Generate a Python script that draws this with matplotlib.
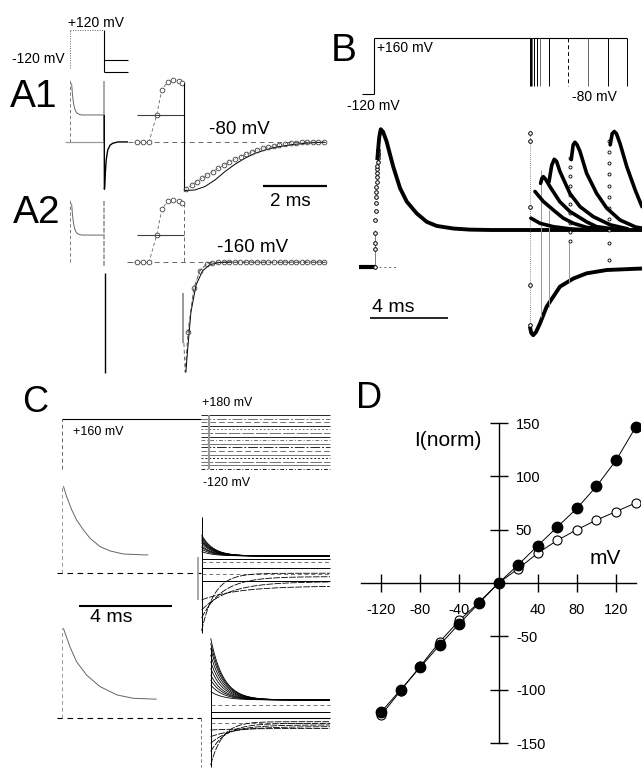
import numpy as np
import matplotlib
matplotlib.use("Agg")
import matplotlib.pyplot as plt

plt.rcParams['font.family'] = ['Liberation Sans', 'DejaVu Sans']
plt.rcParams['lines.solid_capstyle'] = 'butt'

# ======================= DATA =======================
# ---- Panel D : normalized I-V ----
D_mV = [-120, -100, -80, -60, -40, -20, 0, 20, 40, 60, 80, 100, 120, 140]
D_filled = [-121, -100, -79, -58, -38, -19, 0, 17, 35, 52.5, 70, 90.6, 115, 146]
D_open = [-124, -101, -78, -55, -35, -18, 0, 13.4, 28, 40, 50, 59, 67, 75]
D_xticks = [-120, -80, -40, 40, 80, 120]
D_yticks = [-150, -100, -50, 50, 100, 150]

# ---- Panel A : protocol (mV) and currents (normalized, plateau = 1) ----
A_pulse_end = 11.8          # ms, slow time base
A_tail_end = 20.0
A_V_hold = -120
A_V_pulse = 120
A_V_tails = [-80, -160]
A_dec_t = [0.0, 0.55, 0.8, 1.05, 1.3, 1.6, 2.0, 2.5, 3.2, 4.2, 11.8]
A_dec_I = [2.3, 2.17, 1.82, 1.56, 1.38, 1.24, 1.13, 1.06, 1.02, 1.0, 1.0]
A1_tail_t = [11.85, 11.95, 12.2, 12.5, 13.0, 13.8, 14.7, 16.5, 20.0]
A1_tail_I = [-1.75, -1.7, -1.1, -0.65, -0.3, -0.12, -0.05, 0.0, 0.0]
A2_tail_min = -4.1
# expanded time base (ms): onset samples, then samples after the pulse end
A_on_t = [-0.42, -0.23, -0.03, 0.21, 0.37, 0.55, 0.73, 0.91, 0.99]
A1_on_I = [0, 0, 0, 1.0, 1.93, 2.23, 2.30, 2.26, 2.17]
A2_on_I = [0, 0, 0, 1.0, 1.95, 2.26, 2.30, 2.26, 2.17]
A_break = 1.06
A1_off_t = [0.06, 0.24, 0.40, 0.55, 0.73, 0.90, 1.07, 1.25, 1.42, 1.59, 1.77, 1.94, 2.12,
            2.29, 2.46, 2.64, 2.81, 2.98, 3.16, 3.33, 3.50, 3.68, 3.85, 4.02, 4.20, 4.38]
A1_off_I = [-1.75, -1.59, -1.47, -1.35, -1.22, -1.10, -0.98, -0.85, -0.73, -0.64, -0.54, -0.46,
            -0.37, -0.30, -0.23, -0.20, -0.15, -0.11, -0.07, -0.05, -0.03, -0.01, 0, 0, 0, 0]
A1_fit_t = [0.0, 0.34, 0.66, 0.97, 1.28, 1.59, 1.91, 2.22, 2.53, 2.84, 3.37, 3.88, 4.4]
A1_fit_I = [-1.8, -1.78, -1.65, -1.41, -1.1, -0.83, -0.6, -0.42, -0.3, -0.2, -0.1, -0.04, -0.01]
A2_off_t = [0.13, 0.31, 0.50, 0.71, 0.88, 1.06, 1.24, 1.41, 1.59, 1.76, 1.94, 2.11, 2.29,
            2.46, 2.64, 2.81, 2.99, 3.16, 3.34, 3.51, 3.69, 3.86, 4.04, 4.21, 4.39]
A2_off_I = [-2.58, -0.97, -0.32, -0.07, -0.02, 0, 0, 0, 0, 0, 0, 0, 0,
            0, 0, 0, 0, 0, 0, 0, 0, 0, 0, 0, 0]
A2_fit_t = [0.0, 0.04, 0.13, 0.31, 0.50, 0.71, 0.88, 1.2, 4.4]
A2_fit_I = [-3.0, -4.07, -2.58, -0.97, -0.32, -0.07, -0.02, 0, 0]
A2_fit2_t = [0.06, 0.12, 0.22, 0.38, 0.58, 0.80, 1.10, 1.5]
A2_fit2_I = [-4.1, -3.2, -1.85, -0.85, -0.33, -0.10, -0.02, 0]
A_bar_ms = 2

# ---- Panel B ----
B_hold_t = [-0.65, 0.0]
B_V_hold, B_V_pre, B_V_test = -120, 160, -80
B_return_t = [7.98, 8.03, 8.09, 8.19, 8.34, 8.5, 8.96, 9.93, 10.96, 11.98, 12.95]
B_rise_t = [0.02, 0.03, 0.04, 0.05, 0.06, 0.07, 0.08, 0.09, 0.10, 0.11, 0.12, 0.13, 0.14,
            0.15, 0.16, 0.17, 0.18, 0.19, 0.20, 0.21]
B_rise_I = [0, 0.5, 0.64, 0.91, 1.27, 1.5, 1.72, 1.9, 2.03, 2.17, 2.3, 2.44, 2.53, 2.64,
            2.73, 2.84, 2.94, 3.03, 3.08, 3.15]
B_main_t = [0.15, 0.25, 0.33, 0.45, 0.63, 0.97, 1.32, 1.66, 2.17, 2.69, 3.2, 4.05, 4.9, 6.0, 13.73]
B_main_I = [2.89, 3.5, 3.72, 3.65, 3.39, 2.71, 2.13, 1.77, 1.45, 1.22, 1.11, 1.04, 1.01, 1.0, 1.0]
B_tail_t = [7.98, 8.05, 8.15, 8.3, 8.5, 8.84, 9.18, 9.52, 10.21, 10.89, 11.92, 13.73]
B_tail_I = [-1.61, -1.78, -1.84, -1.75, -1.52, -1.07, -0.80, -0.53, -0.31, -0.17, -0.08, -0.04]
B_re_t = [
    [8.03, 8.5, 9.18, 10.05, 11.0],
    [8.24, 8.67, 9.18, 9.69, 10.21, 10.89, 11.92],
    [8.53, 8.6, 8.67, 8.8, 9.01, 9.52, 10.03, 10.89, 11.4, 12.4],
    [8.96, 9.1, 9.23, 9.35, 9.52, 10.03, 10.55, 11.23, 12.1, 13.0],
    [10.1, 10.2, 10.29, 10.4, 10.55, 10.89, 11.4, 11.92, 12.6, 13.4, 13.73],
    [12.1, 12.2, 12.31, 12.42, 12.6, 12.95, 13.38, 13.73],
]
B_re_I = [
    [1.32, 1.18, 1.09, 1.03, 1.0],
    [2.04, 1.77, 1.54, 1.32, 1.18, 1.07, 1.02],
    [2.26, 2.4, 2.44, 2.36, 2.17, 1.76, 1.5, 1.22, 1.09, 1.02],
    [2.3, 2.75, 2.91, 2.85, 2.58, 1.99, 1.63, 1.36, 1.14, 1.03],
    [2.9, 3.3, 3.37, 3.3, 3.12, 2.53, 1.99, 1.59, 1.27, 1.08, 1.05],
    [3.3, 3.6, 3.66, 3.6, 3.34, 2.71, 2.08, 1.63],
]
B_jump_t = [8.53, 8.96, 10.0]
B_jump_lo = [-1.34, -1.07, -0.44]
B_jump_hi = [2.62, 1.54, 0.68]
B_col1_I = [3.62, 3.39, 1.63, -0.49, -1.57]
B_col2_I = [0.7, 0.95, 1.2, 1.45, 1.7, 1.95, 2.2, 2.45, 2.7, 2.95]
B_col3_I = [0.65, 0.2, 1.0, 1.3, 1.6, 1.9, 2.2, 2.5, 2.8, 3.1, 3.4]
B_bar_ms = 4

# ---- Panel C ----
C_t_step = 6.0
C_t_end = 11.55
C_V_hold, C_V_pre = -120, 160
C_V_test = [180, 160, 140, 120, 100, 80, 60, 40, 20, 0, -20, -40, -60, -80, -100, -120]
C1_left_t = [0.06, 0.2, 0.42, 0.63, 0.92, 1.21, 1.64, 2.07, 2.64, 3.5, 3.72]
C1_left_I = [4.84, 4.26, 3.52, 2.96, 2.41, 1.94, 1.48, 1.24, 1.07, 1.02, 1.02]
C2_left_t = [0.06, 0.34, 0.63, 1.06, 1.64, 2.36, 3.07, 4.08]
C2_left_I = [5.0, 3.98, 3.14, 2.4, 1.76, 1.3, 1.11, 1.06]
C1_t0 = 6.02
C1_up_start = [2.13, 2.04, 1.94, 1.85, 1.76, 1.67, 1.53, 1.44, 1.33, 1.2]
C1_up_end = 0.96
C1_up_tau = 0.5
C1_flat = [0.78, 0.61, 0.31, -0.06, -0.43]
C1_dn_start = [-1.48, -2.04, -2.48, -3.2]
C1_dn_end = [-0.71, -0.47, -0.19, 0.0]
C1_dn_tau = [1.6, 1.2, 0.9, 0.55]
C2_t0 = 6.41
C2_up_start = [4.44, 4.17, 3.89, 3.52, 3.15, 2.78, 2.41, 2.13, 1.85, 1.48]
C2_up_end = 1.02
C2_up_tau = 0.55
C2_flat = [0.74, 0.37, -0.28]
C2_dn_start = [-0.65, -1.02, -1.39, -1.85, -2.6]
C2_dn_end = [-0.56, -0.46, -0.37, -0.28, -0.19]
C2_dn_tau = [1.5, 1.2, 0.9, 0.7, 0.5]
C_bar_ms = 4

# ======================= FIGURE =======================
W, H = 642, 771
fig = plt.figure(figsize=(W / 100, H / 100), dpi=100)
fig.patch.set_facecolor('white')

K, G, LG = 'black', '0.4', '0.6'
DOT = (0, (1, 1.5))
DASH = (0, (4, 3))


def pax(x0, y0, x1, y1, xlim, ylim):
    ax = fig.add_axes([x0 / W, 1 - y1 / H, (x1 - x0) / W, (y1 - y0) / H])
    ax.set_xlim(*xlim)
    ax.set_ylim(*ylim)
    ax.axis('off')
    return ax


def label(x, y, s, size, ha='left'):
    fig.text(x / W, 1 - y / H, s, fontsize=size, ha=ha, va='center')


def relax(t, t0, a, b, tau):
    return b + (a - b) * np.exp(-(t - t0) / tau)


# ---------------- Panel A ----------------
XA = (-3.45, 22.41)
va = pax(60, 22, 135, 80, XA, (-213.3, 173.3))
va.plot([0, 0], [A_V_hold - 12, A_V_pulse], color=G, lw=0.7, ls=DOT)
va.plot([0, A_pulse_end], [A_V_pulse, A_V_pulse], color=G, lw=0.7, ls=DOT)
va.plot([A_pulse_end, A_pulse_end], [A_V_pulse, min(A_V_tails)], color=K, lw=0.8)
for v in A_V_tails:
    va.plot([A_pulse_end, A_tail_end], [v, v], color=K, lw=0.8)

for (y0, y1, ylim, is1) in [(75, 200, (-2.15, 2.48), True), (190, 380, (-4.37, 2.67), False)]:
    s = pax(60, y0, 135, y1, XA, ylim)
    s.plot([0, 0], [0, 2.3], color=G, lw=0.6, ls=DASH)
    s.plot(A_dec_t[1:], A_dec_I[1:], color=G, lw=0.7)
    if is1:
        s.plot([-1.7, A_pulse_end], [0, 0], color=LG, lw=0.9)
        s.plot([A_pulse_end, A_pulse_end], [2.25, 0.05], color=LG, lw=1.2)
        s.plot([A_pulse_end] + A1_tail_t, [1.0] + A1_tail_I, color=K, lw=1.0)
        s.plot([22.0, 22.4], [0, 0], color=G, lw=0.7)
    else:
        s.plot([A_pulse_end, A_pulse_end], [2.25, -0.2], color=LG, lw=1.2, ls=(0, (3, 1)))
        s.plot([A_pulse_end + 0.15] * 2, [-0.4, A2_tail_min], color=K, lw=1.0)
        s.plot([19.7, 22.4], [0, 0], color=G, lw=0.7, ls=DASH)

    e = pax(125, y0, 335, y1, (-0.78, 5.78), ylim)
    e.plot([-0.69, 5.56], [0, 0], color=G, lw=0.7, ls=(0, (5, 4)))
    on_I = A1_on_I if is1 else A2_on_I
    e.plot(A_on_t, on_I, color=G, lw=0.6, ls=DASH, marker='o', ms=3.4,
           mfc='white', mec='0.25', mew=0.6)
    e.plot([-0.41, A_break], [1, 1], color='0.25', lw=0.8)
    if is1:
        e.plot([A_break, A_break], [on_I[-1], A1_fit_I[0]], color=K, lw=0.8)
        e.plot(A_break + np.array(A1_fit_t), A1_fit_I, color=K, lw=0.7)
        e.plot(A_break + np.array(A1_off_t), A1_off_I, color=G, lw=0.6, ls=DOT,
               marker='o', ms=3.4, mfc='none', mec='0.25', mew=0.6)
        e.plot([3.53, 3.53 + A_bar_ms], [-1.62, -1.62], color=K, lw=1.6)
    else:
        e.plot([A_break, A_break], [on_I[-1], 0], color=G, lw=0.7, ls=DASH)
        e.plot([A_break - 0.02, A_break - 0.02], [-1.15, -3.0], color=LG, lw=1.4)
        e.plot(A_break + np.array(A2_fit_t), A2_fit_I, color=G, lw=0.7, ls=DASH)
        e.plot(A_break + np.array(A2_fit2_t), A2_fit2_I, color=K, lw=0.7)
        e.plot(A_break + np.array(A2_off_t), A2_off_I, color=G, lw=0.6, ls=DOT,
               marker='o', ms=3.4, mfc='none', mec='0.25', mew=0.6)

label(68, 23, '+120 mV', 10)
label(65, 59, '-120 mV', 10, ha='right')
label(10, 97, 'A1', 28)
label(13, 213, 'A2', 28)
label(209, 130, '-80 mV', 13.5)
label(270, 202, '2 ms', 13.5)
label(217, 248, '-160 mV', 13.5)

# ---------------- Panel B ----------------
XB = (-1.76, 13.73)
vb = pax(340, 30, 642, 100, XB, (-150, 200))
vb.plot(B_hold_t, [B_V_hold, B_V_hold], color=K, lw=0.8)
vb.plot([0, 0], [B_V_hold, B_V_pre], color=K, lw=0.8)
vb.plot([0, B_return_t[-1]], [B_V_pre, B_V_pre], color=K, lw=0.8)
for i, t in enumerate(B_return_t):
    vb.plot([t, t], [B_V_pre, B_V_test], color=K if i % 3 != 2 else G,
            lw=0.7, ls='-' if i != 7 else DASH)

ib = pax(340, 110, 642, 350, XB, (-2.24, 4.24))
ib.plot([-0.8, 0.02], [0, 0], color=K, lw=3.0)
ib.plot([0.25, 1.2], [0, 0], color=G, lw=0.7, ls=(0, (2, 3)))
ib.plot([B_rise_t[0], B_rise_t[0]], [0, 1.0], color=G, lw=0.6)
ib.plot(B_rise_t, B_rise_I, ls='none', marker='o', ms=2.6, mfc='white', mec=K, mew=0.7)
ib.plot(B_main_t, B_main_I, color=K, lw=2.8, solid_joinstyle='round')
ib.plot(B_tail_t, B_tail_I, color=K, lw=2.8, solid_joinstyle='round')
ib.plot([7.98, 7.98], [-1.6, 3.7], color=G, lw=0.6, ls=DOT)
ib.plot([7.98, 8.0, 7.98, 7.98, 7.98], B_col1_I, ls='none', marker='o', ms=2.6,
        mfc='white', mec=K, mew=0.7)
for t, lo, hi in zip(B_jump_t, B_jump_lo, B_jump_hi):
    ib.plot([t, t], [lo, hi], color=LG, lw=0.7)
ib.plot([10.05] * len(B_col2_I), B_col2_I, ls='none', marker='o', ms=2.2,
        mfc='white', mec=K, mew=0.6)
ib.plot([12.05] * len(B_col3_I), B_col3_I, ls='none', marker='o', ms=2.2,
        mfc='white', mec=K, mew=0.6)
for tt, ii in zip(B_re_t, B_re_I):
    ib.plot(tt, ii, color=K, lw=2.6, solid_joinstyle='round', solid_capstyle='round')
ib.plot([-0.22, -0.22 + B_bar_ms], [-1.37, -1.37], color=K, lw=1.2)

label(331, 51, 'B', 28)
label(377, 48, '+160 mV', 10)
label(347, 106, '-120 mV', 10)
label(572, 97, '-80 mV', 10)
label(372, 308, '4 ms', 14)

# ---------------- Panel C ----------------
XC = (-0.517, 11.77)
vc = pax(50, 400, 335, 480, XC, (-181.1, 263.3))
vc.plot([0, 0], [C_V_hold, C_V_pre], color=G, lw=0.7, ls=DASH)
vc.plot([0, C_t_step], [C_V_pre, C_V_pre], color=K, lw=0.8)
styles = ['-', (0, (10, 2, 2, 2)), (0, (6, 3)), '-', (0, (2, 2)), (0, (12, 2)), '-', (0, (4, 2, 1, 2))]
for i, v in enumerate(C_V_test):
    vc.plot([C_t_step, C_t_end], [v, v], color='0.15' if i % 3 == 0 else '0.45',
            lw=0.7, ls=styles[i % len(styles)])
vc.plot([6.34, 6.34], [C_V_test[0], C_V_test[-1]], color=LG, lw=1.5)

t1 = np.linspace(C1_t0, C_t_end, 200)
t2 = np.linspace(C2_t0, C_t_end, 200)

ic1 = pax(50, 480, 335, 640, XC, (-3.71, 5.18))
ic1.plot([-0.22, C_t_step], [0, 0], color=K, lw=0.8, ls=(0, (5, 4)))
ic1.plot([0, 0], [0, C1_left_I[0]], color=LG, lw=0.7, ls=DASH)
ic1.plot(C1_left_t, C1_left_I, color=G, lw=0.7)
ic1.plot([C1_t0, C1_t0], [3.13, -3.3], color=K, lw=0.7)
ic1.plot([5.86, 5.86], [0.9, -1.48], color=LG, lw=1.2)
for a in C1_up_start:
    ic1.plot(t1, relax(t1, C1_t0, a, C1_up_end, C1_up_tau), color=K, lw=0.6)
for i, f in enumerate(C1_flat):
    ic1.plot([C1_t0, C_t_end], [f, f], color='0.45' if i % 2 else K, lw=0.7,
             ls=DASH if i % 2 else '-')
for a, b, tau in zip(C1_dn_start, C1_dn_end, C1_dn_tau):
    ic1.plot(t1, relax(t1, C1_t0, a, b, tau), color=K, lw=0.6, ls=(0, (8, 1.5)))
ic1.plot([0.73, 0.73 + C_bar_ms], [-1.8, -1.8], color=K, lw=1.5)

ic2 = pax(50, 620, 335, 771, XC, (-2.93, 5.46))
ic2.plot([-0.22, C_t_step], [0, 0], color=K, lw=0.8, ls=(0, (5, 4)))
ic2.plot([C2_t0, C_t_end], [0, 0], color=K, lw=0.8)
ic2.plot([0, 0], [0, C2_left_I[0]], color=LG, lw=0.7, ls=DASH)
ic2.plot(C2_left_t, C2_left_I, color=G, lw=0.7)
ic2.plot([C2_t0, C2_t0], [3.98, -2.69], color=K, lw=0.7)
ic2.plot([5.98, 5.98], [0, -2.7], color=G, lw=0.6, ls=DASH)
for a in C2_up_start:
    ic2.plot(t2, relax(t2, C2_t0, a, C2_up_end, C2_up_tau), color=K, lw=0.6)
for i, f in enumerate(C2_flat):
    ic2.plot([C2_t0, C_t_end], [f, f], color='0.45' if i % 2 == 0 else K, lw=0.7,
             ls=DASH if i % 2 == 0 else '-')
for a, b, tau in zip(C2_dn_start, C2_dn_end, C2_dn_tau):
    ic2.plot(t2, relax(t2, C2_t0, a, b, tau), color=K, lw=0.6, ls=(0, (8, 1.5)))

label(22, 402, 'C', 26)
label(73, 432, '+160 mV', 9)
label(202, 403, '+180 mV', 9)
label(203, 483, '-120 mV', 9)
label(90, 618, '4 ms', 14)

# ---------------- Panel D ----------------
ax = fig.add_axes([355 / W, 1 - 760 / H, (640 - 355) / W, (760 - 410) / H])
ax.set_xlim(-146.6, 144.5)
ax.set_ylim(-165.9, 162.2)
ax.set_facecolor('none')
ax.spines['top'].set_visible(False)
ax.spines['left'].set_visible(False)
ax.spines['bottom'].set_position(('data', 0))
ax.spines['right'].set_position(('data', 0))
ax.spines['bottom'].set_bounds(-140, 140)
ax.spines['right'].set_bounds(-150, 150)
for sp in ('bottom', 'right'):
    ax.spines[sp].set_linewidth(1.0)
ax.yaxis.tick_right()
ax.set_xticks(D_xticks)
ax.set_xticklabels([str(v) for v in D_xticks])
ax.set_yticks(D_yticks)
ax.set_yticklabels([str(v) for v in D_yticks])
ax.tick_params(axis='x', direction='inout', length=13, width=1.0, pad=8, labelsize=10.5)
ax.tick_params(axis='y', direction='inout', length=13, width=1.0, pad=6, labelsize=10.5)
ax.plot(D_mV, D_open, color=K, lw=0.7, marker='o', ms=6.5, mfc='white', mec=K, mew=0.8, zorder=3)
ax.plot(D_mV, D_filled, color=K, lw=0.7, marker='o', ms=7.5, mfc=K, mec=K, zorder=4)

label(356, 398, 'D', 26)
label(414, 440, 'I(norm)', 15)
label(590, 558, 'mV', 15)

fig.savefig('out.png', dpi=100, facecolor='white')
